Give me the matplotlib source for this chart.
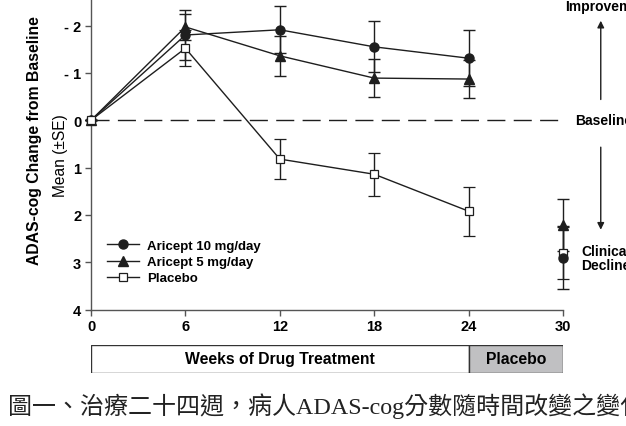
import matplotlib.pyplot as plt
from matplotlib.lines import Line2D

plt.rcParams['font.family'] = ['Liberation Sans', 'DejaVu Sans']

weeks = [0, 6, 12, 18, 24]
aricept10 = [0, -1.80, -1.91, -1.55, -1.31]
aricept10_se = [0, 0.53, 0.50, 0.54, 0.59]
aricept5 = [0, -1.97, -1.36, -0.89, -0.87]
aricept5_se = [0, 0.27, 0.42, 0.40, 0.41]
placebo = [0, -1.52, 0.82, 1.14, 1.92]
placebo_se = [0, 0.38, 0.43, 0.45, 0.52]

# week 30: everyone back on placebo
wk30 = 30
wk30_vals = [2.90, 2.22, 2.80]
wk30_se = [0.67, 0.55, 0.55]

yticks = [-2, -1, 0, 1, 2, 3, 4]
ytick_labels = ['- 2', '- 1', '0', '1', '2', '3', '4']
xticks = [0, 6, 12, 18, 24, 30]

phases = ['Weeks of Drug Treatment', 'Placebo']
phase_start = [0, 24]
phase_len = [24, 6]
phase_color = ['white', '#c0c0c2']

ink = '#1e1e1e'
W, H = 626, 427

fig = plt.figure(figsize=(W / 100, H / 100), dpi=100)
ax = fig.add_axes([91 / W, 1 - 310.7 / H, (563 - 91) / W, 310.7 / H])

common = dict(color=ink, lw=1.0, capsize=4.5, elinewidth=1.0, capthick=1.0,
              clip_on=False, zorder=3)
ax.errorbar(weeks, aricept10, yerr=aricept10_se, marker='o', ms=6.5,
            mfc=ink, mec=ink, **common)
ax.errorbar(weeks, aricept5, yerr=aricept5_se, marker='^', ms=7,
            mfc=ink, mec=ink, **common)
ax.errorbar(weeks, placebo, yerr=placebo_se, marker='s', ms=5.5,
            mfc='white', mec=ink, mew=0.9, **common)

ax.errorbar([wk30], [wk30_vals[2]], yerr=[wk30_se[2]], marker='s', ms=5.5,
            mfc='white', mec=ink, mew=0.9, ls='none', **common)
ax.errorbar([wk30], [wk30_vals[1]], yerr=[wk30_se[1]], marker='^', ms=7,
            mfc=ink, mec=ink, ls='none', **common)
ax.errorbar([wk30], [wk30_vals[0]], yerr=[wk30_se[0]], marker='o', ms=6.5,
            mfc=ink, mec=ink, ls='none', **common)

ax.axhline(0, color=ink, lw=1.0, dashes=(13, 6), zorder=1)

ax.set_xlim(0, 30)
ax.set_ylim(4, -2.56)
ax.set_xticks(xticks)
ax.set_xticklabels([str(x) for x in xticks], fontweight='bold', fontsize=10.5)
ax.set_yticks(yticks)
ax.set_yticklabels(ytick_labels, fontweight='bold', fontsize=10.5)
ax.tick_params(axis='both', direction='out', length=4, width=1, color='#555555', pad=3)
for s in ['top', 'right']:
    ax.spines[s].set_visible(False)
for s in ['left', 'bottom']:
    ax.spines[s].set_color('#555555')
    ax.spines[s].set_linewidth(1.0)

handles = [
    Line2D([], [], color=ink, lw=1, marker='o', ms=6.5, mfc=ink, mec=ink),
    Line2D([], [], color=ink, lw=1, marker='^', ms=7, mfc=ink, mec=ink),
    Line2D([], [], color=ink, lw=1, marker='s', ms=5.5, mfc='white', mec=ink, mew=0.9),
]
ax.legend(handles, ['Aricept 10 mg/day', 'Aricept 5 mg/day', 'Placebo'],
          loc='upper left', bbox_to_anchor=(0.034, 0.225), frameon=False,
          borderpad=0, borderaxespad=0, handlelength=2.4, handletextpad=0.6,
          labelspacing=0.3, prop={'weight': 'bold', 'size': 9.5})

# direction hints on the right
ax.annotate('', xy=(32.4, -2.16), xytext=(32.4, -0.38), annotation_clip=False,
            arrowprops=dict(arrowstyle='-|>', color=ink, lw=1.0, mutation_scale=10))
ax.annotate('', xy=(32.4, 2.37), xytext=(32.4, 0.51), annotation_clip=False,
            arrowprops=dict(arrowstyle='-|>', color=ink, lw=1.0, mutation_scale=10))
ax.text(30.15, -2.41, 'Improvement', fontweight='bold', fontsize=10, va='center', clip_on=False)
ax.text(30.77, 0, 'Baseline', fontweight='bold', fontsize=10, va='center', clip_on=False)
ax.text(31.15, 2.9, 'Clinical\nDecline', fontweight='bold', fontsize=10, va='center',
        linespacing=1.0, clip_on=False)

fig.text(35 / W, 1 - 141 / H, 'ADAS-cog Change from Baseline', rotation=90,
         fontweight='bold', fontsize=11.3, ha='center', va='center')
fig.text(60 / W, 1 - 156 / H, 'Mean (±SE)', rotation=90, fontsize=11.2,
         ha='center', va='center')

# treatment phase bar under the x axis
bx = fig.add_axes([91 / W, 1 - 374 / H, (563 - 91) / W, 28 / H])
bx.barh(0, phase_len, left=phase_start, height=1, color=phase_color,
        edgecolor='#333333', lw=1.0)
for name, st, ln in zip(phases, phase_start, phase_len):
    bx.text(st + ln / 2, 0, name, ha='center', va='center',
            fontweight='bold', fontsize=11.3)
bx.set_xlim(0, 30)
bx.set_ylim(-0.5, 0.5)
bx.axis('off')

fig.text(8 / W, 1 - 406 / H, '圖一、治療二十四週，病人ADAS-cog分數隨時間改變之變化',
         family=['Liberation Serif', 'Noto Sans CJK TC'], fontsize=17.3,
         ha='left', va='center', color='#222222')

fig.savefig('out.png', dpi=100)
